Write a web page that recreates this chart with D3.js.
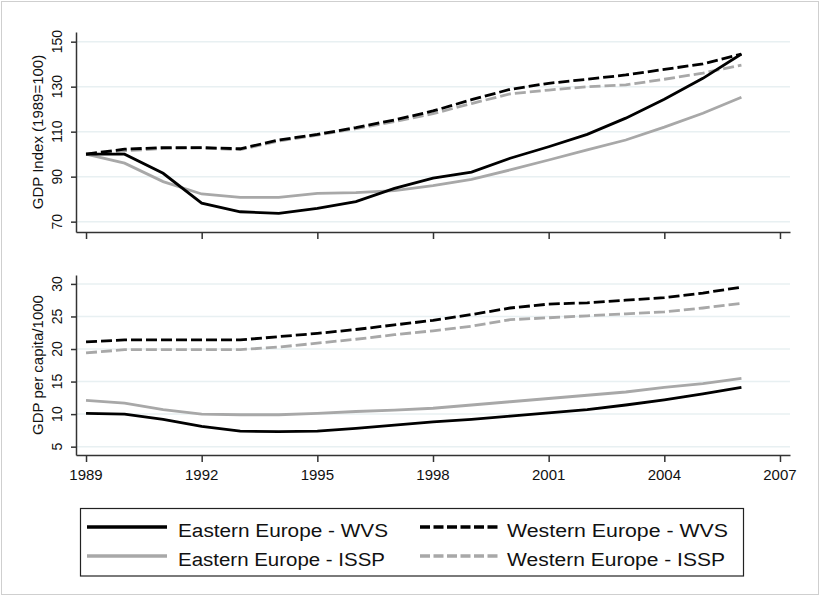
<!DOCTYPE html>
<html>
<head>
<meta charset="utf-8">
<script src="https://cdn.jsdelivr.net/npm/d3@7"></script>
<style>
    body { margin: 0; background: #fff; }
    svg text { font-family: "Liberation Sans", Arial, sans-serif; fill: #111; }
    .grid line { stroke: #e8f0f2; stroke-width: 1.5; }
</style>
</head>
<body>
<div id="chart"></div>
<script>
const years = [1989, 1990, 1991, 1992, 1993, 1994, 1995, 1996, 1997, 1998, 1999, 2000, 2001, 2002, 2003, 2004, 2005, 2006];
const xTicks = [1989, 1992, 1995, 1998, 2001, 2004, 2007];

// top panel: GDP index
const topEastWVS  = [100, 100, 91.5, 78.2, 74.4, 73.7, 75.9, 78.9, 84.8, 89.3, 92, 98.2, 103.3, 108.8, 116, 124.4, 133.7, 144.5];
const topEastISSP = [100, 96, 87.8, 82.3, 80.8, 80.8, 82.6, 82.9, 83.8, 86, 88.8, 93, 97.4, 101.9, 106.3, 112, 118.2, 125.3];
const topWestWVS  = [100, 102.2, 102.9, 102.9, 102.4, 106.3, 108.8, 111.8, 115.2, 119.2, 124.2, 128.8, 131.5, 133.3, 135.2, 137.7, 140.1, 144.5];
const topWestISSP = [100, 101.5, 102.5, 102.8, 102, 105.8, 108.5, 111.3, 114.5, 118, 122.5, 126.8, 128.5, 130, 130.8, 133.3, 136, 139.6];
const topTicks = [70, 90, 110, 130, 150];

// bottom panel: GDP per capita / 1000
const botEastWVS  = [10.1, 10.0, 9.2, 8.1, 7.4, 7.3, 7.4, 7.8, 8.3, 8.8, 9.2, 9.7, 10.2, 10.7, 11.4, 12.2, 13.1, 14.1];
const botEastISSP = [12.1, 11.7, 10.7, 10.0, 9.9, 9.9, 10.1, 10.4, 10.6, 10.9, 11.4, 11.9, 12.4, 12.9, 13.4, 14.1, 14.7, 15.5];
const botWestWVS  = [21.1, 21.4, 21.4, 21.4, 21.4, 21.9, 22.4, 23.0, 23.7, 24.4, 25.3, 26.3, 26.9, 27.1, 27.5, 27.9, 28.6, 29.5];
const botWestISSP = [19.4, 19.9, 19.9, 19.9, 19.9, 20.3, 20.9, 21.5, 22.2, 22.8, 23.5, 24.5, 24.8, 25.1, 25.4, 25.7, 26.3, 27.0];
const botTicks = [5, 10, 15, 20, 25, 30];

const seriesNames = ['Eastern Europe - WVS', 'Western Europe - WVS', 'Eastern Europe - ISSP', 'Western Europe - ISSP'];

const styles = {
    'Eastern Europe - WVS':  {color: '#000', dash: null},
    'Western Europe - WVS':  {color: '#000', dash: '11,4'},
    'Eastern Europe - ISSP': {color: '#a8a8a8', dash: null},
    'Western Europe - ISSP': {color: '#a8a8a8', dash: '11,4'}
};

const W = 820, H = 597;
const svg = d3.select('#chart').append('svg').attr('width', W).attr('height', H);

svg.append('rect')
    .attr('x', 1.5).attr('y', 1.5).attr('width', W - 3).attr('height', H - 4)
    .attr('fill', '#fff').attr('stroke', '#cfcfcf');

const xScale = d3.scaleLinear().domain([1988.74, 2007.26]).range([76, 790]);

function drawPanel(cfg) {
    const yScale = d3.scaleLinear().domain(cfg.domain).range([cfg.bottom, cfg.top]);
    const g = svg.append('g');

    // gridlines
    g.append('g').attr('class', 'grid')
        .selectAll('line').data(cfg.ticks).join('line')
        .attr('x1', 76).attr('x2', 790)
        .attr('y1', d => yScale(d)).attr('y2', d => yScale(d));

    // lines, grey underneath
    const line = d3.line().x((d, i) => xScale(years[i])).y(d => yScale(d));
    const order = [2, 3, 0, 1];
    order.forEach(k => {
        const name = seriesNames[k];
        g.append('path')
            .attr('d', line(cfg.series[name]))
            .attr('fill', 'none')
            .attr('stroke', styles[name].color)
            .attr('stroke-width', 2.8)
            .attr('stroke-dasharray', styles[name].dash);
    });

    // y axis
    const yAxis = d3.axisLeft(yScale).tickValues(cfg.ticks).tickSize(5).tickFormat('').tickSizeOuter(0);
    const yAxisG = g.append('g').attr('transform', 'translate(76,0)').call(yAxis);
    yAxisG.select('.domain').attr('stroke', '#333').attr('stroke-width', 1.5);
    yAxisG.selectAll('.tick line').attr('stroke', '#333').attr('stroke-width', 1.5);

    g.selectAll('.ylab').data(cfg.ticks).join('text')
        .attr('class', 'ylab')
        .attr('transform', d => `translate(61.5,${yScale(d)}) rotate(-90)`)
        .attr('text-anchor', 'middle')
        .style('font-size', '14px')
        .text(d => d);

    g.append('text')
        .attr('transform', `translate(43,${(cfg.top + cfg.bottom) / 2}) rotate(-90)`)
        .attr('text-anchor', 'middle')
        .style('font-size', '15px')
        .text(cfg.title);

    // x axis
    const xAxis = d3.axisBottom(xScale).tickValues(xTicks).tickSize(7).tickFormat('').tickSizeOuter(0);
    const xAxisG = g.append('g').attr('transform', `translate(0,${cfg.bottom})`).call(xAxis);
    xAxisG.select('.domain').attr('stroke', '#333').attr('stroke-width', 1.5);
    xAxisG.selectAll('.tick line').attr('stroke', '#333').attr('stroke-width', 1.5);

    if (cfg.labels) {
        g.selectAll('.xlab').data(xTicks).join('text')
            .attr('class', 'xlab')
            .attr('x', d => xScale(d)).attr('y', cfg.bottom + 25)
            .attr('text-anchor', 'middle')
            .style('font-size', '15px')
            .text(d => d);
    }
}

drawPanel({
    top: 32, bottom: 232, domain: [65.4, 154.3], ticks: topTicks,
    title: 'GDP Index (1989=100)', labels: false,
    series: {
        'Eastern Europe - WVS': topEastWVS, 'Eastern Europe - ISSP': topEastISSP,
        'Western Europe - WVS': topWestWVS, 'Western Europe - ISSP': topWestISSP
    }
});

drawPanel({
    top: 275, bottom: 455, domain: [3.72, 31.37], ticks: botTicks,
    title: 'GDP per capita/1000', labels: true,
    series: {
        'Eastern Europe - WVS': botEastWVS, 'Eastern Europe - ISSP': botEastISSP,
        'Western Europe - WVS': botWestWVS, 'Western Europe - ISSP': botWestISSP
    }
});

// legend
const legend = svg.append('g');
legend.append('rect')
    .attr('x', 80.5).attr('y', 508.5).attr('width', 663).attr('height', 67.5)
    .attr('fill', '#fff').attr('stroke', '#222').attr('stroke-width', 1.2);

const legendPos = [
    {x: 87, tx: 178, y: 527, w: 210},
    {x: 420, tx: 507, y: 527, w: 221},
    {x: 87, tx: 178, y: 556, w: 207},
    {x: 420, tx: 507, y: 556, w: 218}
];

seriesNames.forEach((name, i) => {
    const p = legendPos[i];
    legend.append('line')
        .attr('x1', p.x).attr('x2', p.x + (i % 2 ? 80 : 80))
        .attr('y1', p.y).attr('y2', p.y)
        .attr('stroke', styles[name].color)
        .attr('stroke-width', 3.5)
        .attr('stroke-dasharray', styles[name].dash ? '10,3.5' : null);
    legend.append('text')
        .attr('x', p.tx).attr('y', p.y + 9.5)
        .attr('textLength', p.w)
        .attr('lengthAdjust', 'spacingAndGlyphs')
        .style('font-size', '18px')
        .text(name);
});
</script>
</body>
</html>
